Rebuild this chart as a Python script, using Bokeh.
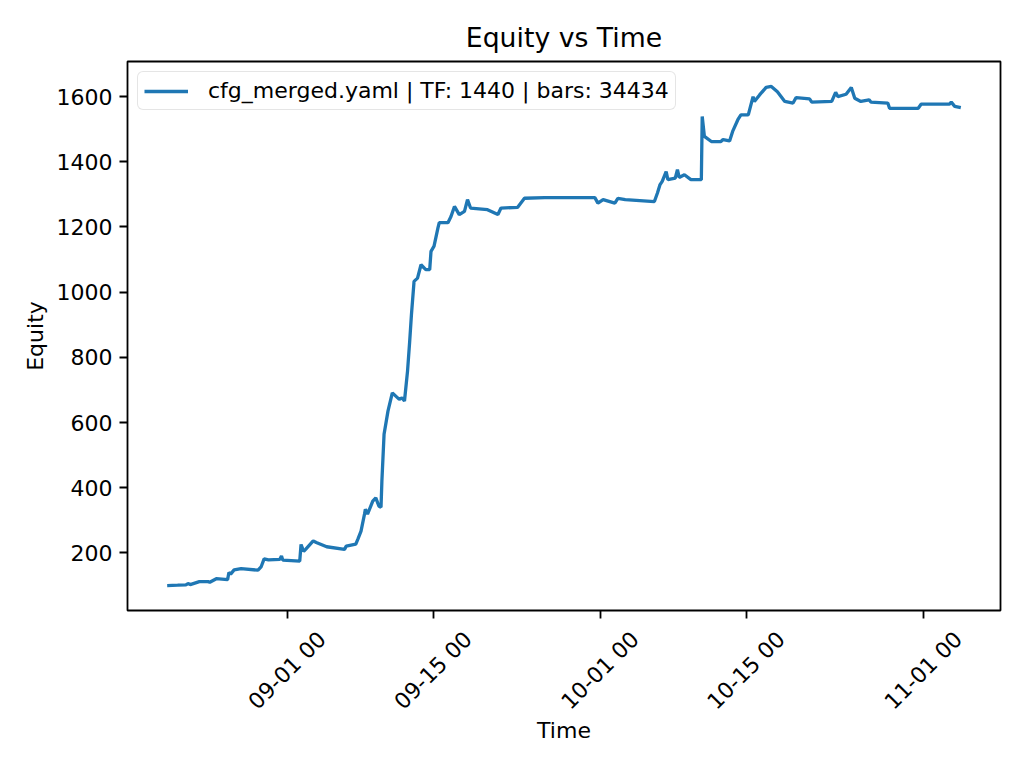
import math
import pandas as pd
from bokeh.plotting import figure
from bokeh.models import (Range1d, FixedTicker, Legend, LegendItem,
                          ColumnDataSource, DatetimeAxis)
from bokeh.embed import file_html
from bokeh.resources import INLINE

times = [
    "2025-08-20 12:00", "2025-08-21 12:00", "2025-08-22 07:00", "2025-08-22 12:00", "2025-08-22 17:00",
    "2025-08-23 14:00", "2025-08-24 10:00", "2025-08-24 14:00", "2025-08-25 05:00", "2025-08-26 07:00",
    "2025-08-26 10:00", "2025-08-26 14:00", "2025-08-26 22:00", "2025-08-27 14:00", "2025-08-29 05:00",
    "2025-08-29 12:00", "2025-08-29 19:00", "2025-08-30 05:00", "2025-08-31 07:00", "2025-08-31 11:00",
    "2025-08-31 14:00", "2025-09-02 05:00", "2025-09-02 08:00", "2025-09-02 14:00", "2025-09-02 19:00",
    "2025-09-03 12:00", "2025-09-03 19:00", "2025-09-04 19:00", "2025-09-06 12:00", "2025-09-06 16:00",
    "2025-09-07 14:00", "2025-09-07 19:00", "2025-09-08 02:00", "2025-09-08 10:00", "2025-09-08 12:00",
    "2025-09-08 17:00", "2025-09-09 05:00", "2025-09-09 12:00", "2025-09-09 19:00", "2025-09-10 00:00",
    "2025-09-10 02:00", "2025-09-10 07:00", "2025-09-10 16:00", "2025-09-11 02:00", "2025-09-11 10:00",
    "2025-09-11 18:00", "2025-09-12 00:00", "2025-09-12 06:00", "2025-09-12 13:00", "2025-09-12 18:00",
    "2025-09-12 22:00", "2025-09-13 04:00", "2025-09-13 12:00", "2025-09-13 20:00", "2025-09-14 07:00",
    "2025-09-14 16:00", "2025-09-14 19:00", "2025-09-15 02:00", "2025-09-15 11:00", "2025-09-15 14:00",
    "2025-09-16 10:00", "2025-09-16 17:00", "2025-09-17 01:00", "2025-09-17 12:00", "2025-09-18 00:00",
    "2025-09-18 07:00", "2025-09-18 14:00", "2025-09-20 05:00", "2025-09-21 05:00", "2025-09-21 12:00",
    "2025-09-23 02:00", "2025-09-23 18:00", "2025-09-25 17:00", "2025-09-30 12:00", "2025-09-30 19:00",
    "2025-10-01 07:00", "2025-10-02 10:00", "2025-10-02 17:00", "2025-10-03 10:00", "2025-10-06 05:00",
    "2025-10-06 12:00", "2025-10-06 18:00", "2025-10-06 23:00", "2025-10-07 08:00", "2025-10-07 12:00",
    "2025-10-08 05:00", "2025-10-08 10:00", "2025-10-08 14:00", "2025-10-09 02:00", "2025-10-09 17:00",
    "2025-10-10 17:00", "2025-10-10 19:00", "2025-10-11 00:00", "2025-10-11 16:00", "2025-10-12 14:00",
    "2025-10-12 19:00", "2025-10-13 10:00", "2025-10-13 17:00", "2025-10-14 05:00", "2025-10-14 12:00",
    "2025-10-15 05:00", "2025-10-15 16:00", "2025-10-15 19:00", "2025-10-16 07:00", "2025-10-16 22:00",
    "2025-10-17 10:00", "2025-10-18 00:00", "2025-10-18 17:00", "2025-10-19 12:00", "2025-10-19 19:00",
    "2025-10-21 02:00", "2025-10-21 07:00", "2025-10-23 05:00", "2025-10-23 14:00", "2025-10-23 19:00",
    "2025-10-24 14:00", "2025-10-25 02:00", "2025-10-25 10:00", "2025-10-26 00:00", "2025-10-26 19:00",
    "2025-10-26 23:00", "2025-10-28 14:00", "2025-10-28 18:00", "2025-10-31 12:00", "2025-10-31 19:00",
    "2025-11-03 12:00", "2025-11-03 16:00", "2025-11-04 00:00", "2025-11-04 14:00",
]

equity = [
    100, 101, 102, 106, 103,
    112, 112, 110, 121, 118,
    140, 135, 148, 152, 147,
    157, 182, 179, 180, 191,
    178, 175, 226, 205, 212,
    237, 232, 219, 211, 221,
    227, 243, 267, 319, 334,
    319, 359, 369, 344, 340,
    420, 564, 635, 691, 681,
    671, 676, 666, 758, 850,
    931, 1033, 1043, 1084, 1069,
    1069, 1125, 1141, 1197, 1213,
    1213, 1232, 1263, 1238, 1248,
    1284, 1258, 1253, 1238, 1258,
    1260, 1288, 1290, 1290, 1273,
    1284, 1273, 1288, 1284, 1278,
    1304, 1330, 1340, 1370, 1345,
    1350, 1376, 1352, 1360, 1345,
    1345, 1539, 1478, 1462, 1462,
    1468, 1464, 1493, 1529, 1544,
    1544, 1600, 1585, 1605, 1628,
    1631, 1615, 1585, 1580, 1597,
    1593, 1583, 1585, 1613, 1600,
    1607, 1628, 1595, 1585, 1590,
    1583, 1580, 1564, 1564, 1577,
    1577, 1583, 1570, 1566,
]

x_ticks = ["2025-09-01", "2025-09-15", "2025-10-01", "2025-10-15", "2025-11-01"]
y_ticks = [200, 400, 600, 800, 1000, 1200, 1400, 1600]
legend_label = "cfg_merged.yaml | TF: 1440 | bars: 34434"

FONT = "DejaVu Sans"
FS = "22px"

W, H = 1008, 752
BL, BR, BT, BB = 127, 8, 61, 142
FRAME_W = W - BL - BR

t = pd.to_datetime(times)
src = ColumnDataSource(dict(t=t, eq=equity))

tmin, tmax = t.min(), t.max()
tpad = (tmax - tmin) * 0.05
x0, x1 = tmin - tpad, tmax + tpad
ymin, ymax = min(equity), max(equity)
ypad = (ymax - ymin) * 0.05
y0, y1 = ymin - ypad, ymax + ypad

p = figure(width=W, height=H, x_axis_type="datetime", output_backend="svg",
           toolbar_location=None,
           x_range=Range1d(x0, x1),
           y_range=Range1d(y0, y1),
           min_border_left=BL, min_border_right=BR, min_border_top=BT, min_border_bottom=BB)

r = p.line("t", "eq", source=src, line_color="#1f77b4", line_width=3.3)

p.title.text = "Equity vs Time"
p.title.align = "center"
p.title.text_font = FONT
p.title.text_font_size = "26.7px"
p.title.text_font_style = "normal"
p.title.text_color = "black"
p.title.standoff = 17

p.grid.visible = False
p.outline_line_color = "black"
p.outline_line_width = 1.8
p.outline_line_alpha = 1

tick_ms = [pd.Timestamp(d).value // 10**6 for d in x_ticks]
tick_text = [pd.Timestamp(d).strftime("%m-%d %H") for d in x_ticks]

# axis carrying the tick marks
p.xaxis.ticker = FixedTicker(ticks=tick_ms)
p.xaxis.major_label_overrides = {ms: "" for ms in tick_ms}
p.xaxis.major_label_text_font_size = "0px"
p.xaxis.major_label_standoff = 0
p.yaxis.ticker = FixedTicker(ticks=y_ticks)

for ax in (p.xaxis, p.yaxis):
    ax.axis_line_color = None
    ax.major_tick_in = 0
    ax.major_tick_out = 8
    ax.major_tick_line_width = 1.8
    ax.minor_tick_line_color = None
    ax.major_tick_line_color = "black"
    ax.major_label_text_font = FONT
    ax.major_label_text_color = "black"
    ax.axis_label_text_font = FONT
    ax.axis_label_text_font_size = FS
    ax.axis_label_text_font_style = "normal"
    ax.axis_label_text_color = "black"

p.yaxis.major_label_text_font_size = FS
p.yaxis.major_label_standoff = 7
p.yaxis.axis_label = "Equity"
p.yaxis.axis_label_standoff = 6

# axis carrying the 45-degree labels, centred under the ticks like matplotlib
ms_per_px = (x1 - x0).total_seconds() * 1000.0 / FRAME_W
shift_ms = 35 * ms_per_px
lab_pos = [ms + shift_ms for ms in tick_ms]
lab_axis = DatetimeAxis(ticker=FixedTicker(ticks=lab_pos),
                        major_label_overrides={pos: txt for pos, txt in zip(lab_pos, tick_text)},
                        major_label_orientation=math.pi / 4,
                        major_label_standoff=17,
                        major_label_text_font=FONT, major_label_text_font_size=FS,
                        major_label_text_color="black",
                        major_tick_line_color=None, major_tick_in=0, major_tick_out=0,
                        minor_tick_line_color=None, axis_line_color=None,
                        axis_label="Time", axis_label_standoff=-8,
                        axis_label_text_font=FONT, axis_label_text_font_size=FS,
                        axis_label_text_font_style="normal", axis_label_text_color="black")
p.add_layout(lab_axis, "below")

legend = Legend(items=[LegendItem(label=legend_label, renderers=[r])], location="top_left")
legend.label_text_font = FONT
legend.label_text_font_size = FS
legend.label_text_color = "black"
legend.border_line_color = "#cccccc"
legend.border_line_width = 1.8
legend.background_fill_alpha = 0.8
legend.glyph_width = 44
legend.label_standoff = 20
legend.padding = 6
legend.margin = 10
if "border_radius" in Legend.properties():
    legend.border_radius = 6
p.add_layout(legend)

open("out.html", "w").write(file_html(p, INLINE))
